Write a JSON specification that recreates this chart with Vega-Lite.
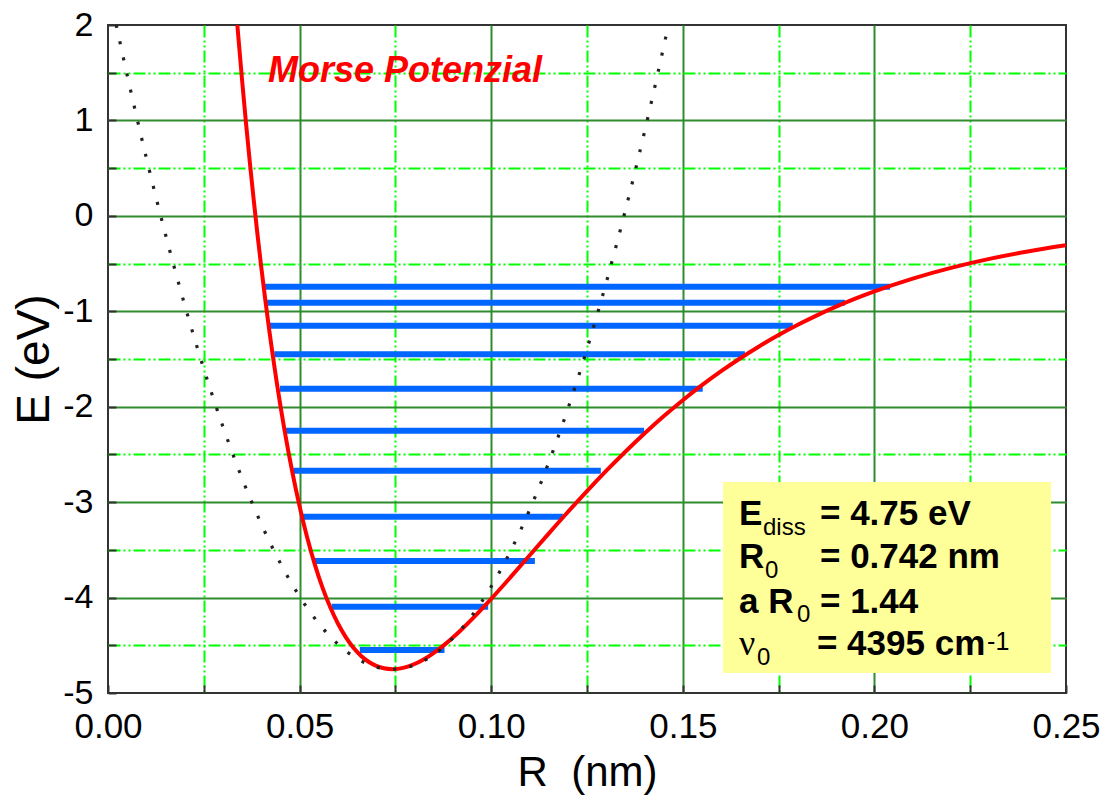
{
  "$schema": "https://vega.github.io/schema/vega-lite/v6.json",
  "width": 958,
  "height": 668,
  "autosize": {"type": "none"},
  "padding": {"left": 108, "top": 25, "right": 39, "bottom": 110},
  "background": "white",
  "config": {
    "view": {"stroke": "#333333", "strokeWidth": 2},
    "font": "Liberation Sans"
  },
  "datasets": {
    "morse": [
      {"R": 0.03375, "E": 2.0}, {"R": 0.035, "E": 1.4163}, {"R": 0.036, "E": 0.9787}, {"R": 0.037, "E": 0.566},
      {"R": 0.038, "E": 0.1759}, {"R": 0.039, "E": -0.1921}, {"R": 0.04, "E": -0.5391}, {"R": 0.041, "E": -0.8662},
      {"R": 0.042, "E": -1.1741}, {"R": 0.043, "E": -1.4638}, {"R": 0.044, "E": -1.736}, {"R": 0.045, "E": -1.9915},
      {"R": 0.046, "E": -2.2313}, {"R": 0.047, "E": -2.4556}, {"R": 0.048, "E": -2.6657}, {"R": 0.05, "E": -3.0448},
      {"R": 0.052, "E": -3.3735}, {"R": 0.054, "E": -3.6567}, {"R": 0.056, "E": -3.8983}, {"R": 0.058, "E": -4.1023},
      {"R": 0.06, "E": -4.2722}, {"R": 0.062, "E": -4.4113}, {"R": 0.064, "E": -4.5226}, {"R": 0.066, "E": -4.6088},
      {"R": 0.068, "E": -4.6724}, {"R": 0.07, "E": -4.7158}, {"R": 0.072, "E": -4.741}, {"R": 0.0742, "E": -4.75},
      {"R": 0.076, "E": -4.7444}, {"R": 0.078, "E": -4.726}, {"R": 0.08, "E": -4.6962}, {"R": 0.082, "E": -4.6563},
      {"R": 0.084, "E": -4.6076}, {"R": 0.086, "E": -4.5511}, {"R": 0.088, "E": -4.488}, {"R": 0.09, "E": -4.4189},
      {"R": 0.092, "E": -4.345}, {"R": 0.095, "E": -4.2263}, {"R": 0.098, "E": -4.1004}, {"R": 0.1, "E": -4.0135},
      {"R": 0.105, "E": -3.789}, {"R": 0.11, "E": -3.5593}, {"R": 0.115, "E": -3.3296}, {"R": 0.12, "E": -3.1036},
      {"R": 0.125, "E": -2.8842}, {"R": 0.13, "E": -2.673}, {"R": 0.135, "E": -2.4717}, {"R": 0.14, "E": -2.2807},
      {"R": 0.145, "E": -2.1009}, {"R": 0.15, "E": -1.9321}, {"R": 0.155, "E": -1.7747}, {"R": 0.16, "E": -1.6279},
      {"R": 0.165, "E": -1.4917}, {"R": 0.17, "E": -1.3656}, {"R": 0.175, "E": -1.2491}, {"R": 0.18, "E": -1.1416},
      {"R": 0.185, "E": -1.0426}, {"R": 0.19, "E": -0.9517}, {"R": 0.195, "E": -0.8682}, {"R": 0.2, "E": -0.7916},
      {"R": 0.21, "E": -0.6573}, {"R": 0.22, "E": -0.545}, {"R": 0.23, "E": -0.4512}, {"R": 0.24, "E": -0.3733},
      {"R": 0.25, "E": -0.3086}
    ],
    "harmonic": [
      {"R": 0.00215, "E": 2.0}, {"R": 0.005, "E": 1.4752}, {"R": 0.01, "E": 0.6081}, {"R": 0.015, "E": -0.194},
      {"R": 0.02, "E": -0.9311}, {"R": 0.025, "E": -1.6032}, {"R": 0.03, "E": -2.2103}, {"R": 0.035, "E": -2.7524},
      {"R": 0.04, "E": -3.2295}, {"R": 0.045, "E": -3.6416}, {"R": 0.05, "E": -3.9887}, {"R": 0.055, "E": -4.2708},
      {"R": 0.06, "E": -4.4879}, {"R": 0.065, "E": -4.64}, {"R": 0.07, "E": -4.7271}, {"R": 0.0742, "E": -4.75},
      {"R": 0.08, "E": -4.7063}, {"R": 0.085, "E": -4.5984}, {"R": 0.09, "E": -4.4255}, {"R": 0.095, "E": -4.1876},
      {"R": 0.1, "E": -3.8847}, {"R": 0.105, "E": -3.5168}, {"R": 0.11, "E": -3.0839}, {"R": 0.115, "E": -2.586},
      {"R": 0.12, "E": -2.0231}, {"R": 0.125, "E": -1.3952}, {"R": 0.13, "E": -0.7023}, {"R": 0.135, "E": 0.0556},
      {"R": 0.14, "E": 0.8785}, {"R": 0.14625, "E": 2.0}
    ],
    "levels": [
      {"E": -0.742, "R1": 0.04097, "R2": 0.2041},
      {"E": -0.91, "R1": 0.04141, "R2": 0.1923},
      {"E": -1.151, "R1": 0.04228, "R2": 0.1787},
      {"E": -1.451, "R1": 0.0434, "R2": 0.1662},
      {"E": -1.811, "R1": 0.04489, "R2": 0.1552},
      {"E": -2.251, "R1": 0.04645, "R2": 0.1399},
      {"E": -2.67, "R1": 0.04836, "R2": 0.1286},
      {"E": -3.152, "R1": 0.0501, "R2": 0.1187},
      {"E": -3.617, "R1": 0.05402, "R2": 0.1114},
      {"E": -4.096, "R1": 0.05838, "R2": 0.0992},
      {"E": -4.549, "R1": 0.06572, "R2": 0.0878}
    ]
  },
  "layer": [
    {
      "data": {"values": [{"R1": 0.1605, "R2": 0.2461, "E1": -2.789, "E2": -4.79}]},
      "mark": {"type": "rect", "color": "#ffff99"},
      "encoding": {
        "x": {
          "field": "R1", "type": "quantitative",
          "scale": {"domain": [0, 0.25], "nice": false, "zero": false},
          "axis": {
            "values": [0, 0.025, 0.05, 0.075, 0.1, 0.125, 0.15, 0.175, 0.2, 0.225, 0.25],
            "labelExpr": "abs(datum.value*20 - round(datum.value*20)) < 0.001 ? format(datum.value, '.2f') : ''",
            "domain": false,
            "grid": true,
            "gridWidth": 2,
            "gridColor": {"condition": {"test": "abs(datum.value*20 - round(datum.value*20)) < 0.001", "value": "#2e8b2e"}, "value": "#00ff00"},
            "gridDash": {"condition": {"test": "abs(datum.value*20 - round(datum.value*20)) < 0.001", "value": []}, "value": [12, 3, 2, 3, 2, 3]},
            "gridOpacity": {"condition": {"test": "datum.value < 0.001 || datum.value > 0.249", "value": 0}, "value": 1},
            "ticks": true, "tickSize": -8, "tickColor": "#333333", "tickWidth": 2,
            "labelFont": "Liberation Sans", "labelFontSize": 35, "labelColor": "#000000", "labelPadding": 24,
            "labelFlush": false, "labelOverlap": false,
            "title": "R\u00a0 (nm)", "titleFont": "Liberation Sans", "titleFontSize": 42, "titleFontWeight": "normal",
            "titleColor": "#000000", "titlePadding": 8
          }
        },
        "x2": {"field": "R2"},
        "y": {
          "field": "E1", "type": "quantitative",
          "scale": {"domain": [-5, 2], "nice": false, "zero": false},
          "axis": {
            "values": [-5, -4.5, -4, -3.5, -3, -2.5, -2, -1.5, -1, -0.5, 0, 0.5, 1, 1.5, 2],
            "labelExpr": "datum.value == round(datum.value) ? '' + datum.value : ''",
            "domain": false,
            "grid": true,
            "gridWidth": 2,
            "gridColor": {"condition": {"test": "datum.value == round(datum.value)", "value": "#2e8b2e"}, "value": "#00ff00"},
            "gridDash": {"condition": {"test": "datum.value == round(datum.value)", "value": []}, "value": [12, 3, 2, 3, 2, 3]},
            "gridOpacity": {"condition": {"test": "datum.value < -4.99 || datum.value > 1.99", "value": 0}, "value": 1},
            "ticks": true, "tickSize": -8, "tickColor": "#333333", "tickWidth": 2,
            "labelFont": "Liberation Sans", "labelFontSize": 34, "labelColor": "#000000", "labelPadding": 23,
            "labelFlush": false, "labelOverlap": false,
            "title": "E (eV)", "titleFont": "Liberation Sans", "titleFontSize": 46, "titleFontWeight": "normal",
            "titleColor": "#000000", "titlePadding": 4
          }
        },
        "y2": {"field": "E2"}
      }
    },
    {
      "data": {"name": "levels"},
      "mark": {"type": "rule", "color": "#0066ff", "strokeWidth": 6, "strokeCap": "butt"},
      "encoding": {
        "x": {"field": "R1", "type": "quantitative"},
        "x2": {"field": "R2"},
        "y": {"field": "E", "type": "quantitative"}
      }
    },
    {
      "data": {"name": "morse"},
      "mark": {"type": "line", "color": "#ff0000", "strokeWidth": 4, "interpolate": "monotone", "clip": true},
      "encoding": {
        "x": {"field": "R", "type": "quantitative"},
        "y": {"field": "E", "type": "quantitative"}
      }
    },
    {
      "data": {"name": "harmonic"},
      "mark": {"type": "line", "color": "#222222", "strokeWidth": 3.2, "strokeDash": [3, 13.5], "strokeCap": "butt", "interpolate": "monotone", "clip": true},
      "encoding": {
        "x": {"field": "R", "type": "quantitative"},
        "y": {"field": "E", "type": "quantitative"}
      }
    },
    {
      "data": {"values": [{"R": 0.04175, "E": 1.4027, "t": "Morse Potenzial"}]},
      "mark": {"type": "text", "align": "left", "baseline": "alphabetic", "font": "Liberation Sans", "fontSize": 36, "fontStyle": "italic", "fontWeight": "bold", "color": "#ff0000"},
      "encoding": {
        "x": {"field": "R", "type": "quantitative"},
        "y": {"field": "E", "type": "quantitative"},
        "text": {"field": "t"}
      }
    },
    {
      "data": {"values": [
        {"R": 0.16467, "E": -3.2395, "t": "E"},
        {"R": 0.1858, "E": -3.2395, "t": "= 4.75 eV"},
        {"R": 0.16467, "E": -3.6901, "t": "R"},
        {"R": 0.1858, "E": -3.6901, "t": "= 0.742 nm"},
        {"R": 0.16467, "E": -4.1617, "t": "a R"},
        {"R": 0.1858, "E": -4.1617, "t": "= 1.44"},
        {"R": 0.185, "E": -4.6018, "t": "= 4395 cm"}
      ]},
      "mark": {"type": "text", "align": "left", "baseline": "alphabetic", "font": "Liberation Sans", "fontSize": 35, "fontWeight": "bold", "color": "#000000"},
      "encoding": {
        "x": {"field": "R", "type": "quantitative"},
        "y": {"field": "E", "type": "quantitative"},
        "text": {"field": "t"}
      }
    },
    {
      "data": {"values": [
        {"R": 0.17093, "E": -3.3443, "t": "diss"},
        {"R": 0.17145, "E": -3.7949, "t": "0"},
        {"R": 0.1798, "E": -4.256, "t": "0"},
        {"R": 0.16936, "E": -4.7066, "t": "0"}
      ]},
      "mark": {"type": "text", "align": "left", "baseline": "alphabetic", "font": "Liberation Sans", "fontSize": 24, "color": "#000000"},
      "encoding": {
        "x": {"field": "R", "type": "quantitative"},
        "y": {"field": "E", "type": "quantitative"},
        "text": {"field": "t"}
      }
    },
    {
      "data": {"values": [{"R": 0.16467, "E": -4.6018, "t": "ν"}]},
      "mark": {"type": "text", "align": "left", "baseline": "alphabetic", "font": "Liberation Serif", "fontSize": 36, "color": "#000000"},
      "encoding": {
        "x": {"field": "R", "type": "quantitative"},
        "y": {"field": "E", "type": "quantitative"},
        "text": {"field": "t"}
      }
    },
    {
      "data": {"values": [{"R": 0.2294, "E": -4.5494, "t": "-1"}]},
      "mark": {"type": "text", "align": "left", "baseline": "alphabetic", "font": "Liberation Sans", "fontSize": 25, "color": "#000000"},
      "encoding": {
        "x": {"field": "R", "type": "quantitative"},
        "y": {"field": "E", "type": "quantitative"},
        "text": {"field": "t"}
      }
    }
  ]
}
